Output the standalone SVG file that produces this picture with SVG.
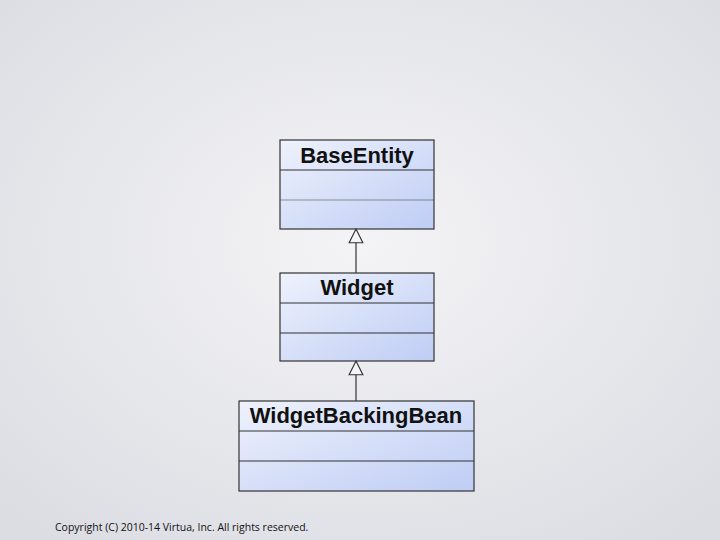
<svg xmlns="http://www.w3.org/2000/svg" width="720" height="540" viewBox="0 0 720 540">
<defs>
<linearGradient id="g" x1="0" y1="0" x2="1" y2="1"><stop offset="0" stop-color="#eef2fc"/><stop offset="1" stop-color="#bfcdf5"/></linearGradient>
<radialGradient id="bg" cx="0.5" cy="0.45" r="0.7"><stop offset="0" stop-color="#f4f4f6"/><stop offset="1" stop-color="#dcdde3"/></radialGradient>
<marker id="tri" markerWidth="16" markerHeight="16" refX="13" refY="7" orient="auto" markerUnits="userSpaceOnUse" viewBox="0 0 14 14"><path d="M13 7 L1 1 L1 13 Z" fill="#f4f4f6" stroke="#333" stroke-width="1"/></marker>
</defs>
<style>
.box{fill:url(#g);stroke:#333;stroke-width:1.2}
.div{stroke:#333;stroke-width:1.2}
.t{font-family:"Liberation Sans",Arial,sans-serif;font-weight:bold;font-size:22px;fill:#111;text-anchor:middle}
.c{stroke:#333;stroke-width:1.2;fill:none}
</style>
<rect width="720" height="540" fill="url(#bg)"/>
<g id="BaseEntity"><rect class="box" x="280" y="140" width="154" height="89"/><line class="div" x1="280" y1="170" x2="434" y2="170"/><line class="div" x1="280" y1="200" x2="434" y2="200" stroke-opacity="0.5"/><text class="t" x="357" y="163">BaseEntity</text></g>
<g id="Widget"><rect class="box" x="280" y="273" width="154" height="88"/><line class="div" x1="280" y1="303" x2="434" y2="303"/><line class="div" x1="280" y1="333" x2="434" y2="333"/><text class="t" x="357" y="295">Widget</text></g>
<g id="WidgetBackingBean"><rect class="box" x="239" y="401" width="235" height="90"/><line class="div" x1="239" y1="431" x2="474" y2="431"/><line class="div" x1="239" y1="461" x2="474" y2="461"/><text class="t" x="356" y="423">WidgetBackingBean</text></g>
<g id="connectors">
<path class="c" d="M356 273 V229" marker-end="url(#tri)"/>
<path class="c" d="M356 401 V361" marker-end="url(#tri)"/>
</g>
<text x="55" y="531" font-family="'Open Sans','Liberation Sans',sans-serif" font-size="10.5" fill="#111">Copyright (C) 2010-14 Virtua, Inc. All rights reserved.</text>
</svg>
